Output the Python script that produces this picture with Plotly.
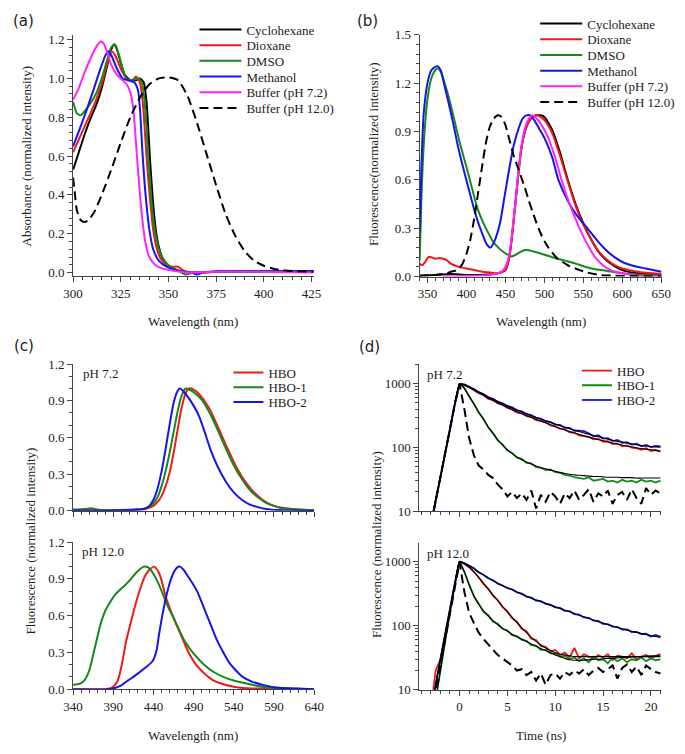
import plotly.graph_objects as go

# ---------------- DATA ----------------
# (a) absorbance
A_CYC_X = [300,303,306,309,312,315,318,320,321.5,323,325,327,330,333,335,337,338.5,340.4,342,343.5,345,347,350,354,358,365,380,400,426]
A_CYC_Y = [0.53,0.62,0.71,0.79,0.86,0.95,1.07,1.15,1.175,1.15,1.08,1.02,0.99,0.99,1.0,0.98,0.88,0.57,0.35,0.21,0.13,0.07,0.03,0.015,0.005,0.0,0.005,0.005,0.005]
A_DIO_X = [300,305,310,315,318,320,322,325,328,331,333,335,336.5,338.7,340.5,342,344,346,349,352,355,358,362,380,400,426]
A_DIO_Y = [0.62,0.73,0.84,0.97,1.08,1.14,1.12,1.05,1.0,0.99,1.01,0.98,0.88,0.57,0.36,0.22,0.12,0.07,0.04,0.03,0.03,0.01,0.0,0.005,0.005,0.005]
A_DMS_X = [300,302,304,306,309,312,315,318,320,322,324,326,328,331,334,336,337.5,339.6,341.3,343,345,348,351,355,359,363,380,400,426]
A_DMS_Y = [0.88,0.82,0.81,0.83,0.87,0.92,1.00,1.10,1.16,1.175,1.12,1.05,1.0,0.99,1.0,0.98,0.88,0.57,0.35,0.21,0.12,0.06,0.03,0.01,-0.01,0.0,0.005,0.005,0.005]
A_MET_X = [300,305,310,314,317,318.5,320,323,326,329,332,334,335,336.5,338,340,342,345,349,353,358,362,365,368,380,400,426]
A_MET_Y = [0.65,0.78,0.92,1.04,1.12,1.14,1.12,1.05,1.0,0.99,0.98,0.94,0.85,0.6,0.40,0.22,0.12,0.06,0.03,0.015,0.005,0.0,-0.01,0.0,0.008,0.006,0.008]
A_B72_X = [300,303,306,309,312,314.5,316,318,320,323,326,328,330,331.5,333.7,336,338,340,343,347,352,360,380,400,426]
A_B72_Y = [0.89,0.95,1.03,1.10,1.16,1.19,1.18,1.13,1.07,1.02,0.99,0.97,0.93,0.85,0.57,0.30,0.15,0.08,0.04,0.02,0.01,0.0,0.005,0.003,0.0]
A_B12_X = [300,301,302,304,306,308,311,315,320,325,330,335,340,345,350,355,360,365,370,375,380,385,390,395,400,405,410,415,426]
A_B12_Y = [0.49,0.40,0.32,0.27,0.26,0.27,0.31,0.40,0.53,0.67,0.80,0.90,0.97,1.0,1.005,0.99,0.91,0.77,0.61,0.45,0.30,0.19,0.11,0.06,0.035,0.02,0.012,0.008,0.005]

# (b) fluorescence in solvents
B_CYC_X = [340,360,380,400,420,440,450,455,460,465,470,475,480,485,490,495,500,510,520,530,540,550,560,570,580,590,600,620,650]
B_CYC_Y = [0.005,0.01,0.015,0.01,0.01,0.02,0.04,0.12,0.32,0.56,0.78,0.90,0.96,0.99,1.0,1.0,0.99,0.91,0.77,0.60,0.45,0.33,0.23,0.15,0.10,0.065,0.04,0.02,0.01]
B_DIO_X = [340,343,347,351,355,360,365,370,375,380,390,400,410,420,430,440,450,455,460,465,470,475,480,485,490,495,500,510,520,530,540,550,560,570,580,590,600,620,650]
B_DIO_Y = [0.08,0.07,0.09,0.12,0.12,0.11,0.115,0.11,0.10,0.08,0.06,0.05,0.04,0.03,0.025,0.02,0.04,0.12,0.32,0.56,0.78,0.90,0.96,0.99,1.0,0.99,0.97,0.89,0.75,0.59,0.44,0.32,0.23,0.155,0.105,0.07,0.05,0.03,0.015]
B_DMS_X = [340,342,345,350,355,360,364,368,372,378,385,392,400,406,413,420,427,435,443,451,458,465,472,478,486,497,510,525,540,560,580,600,625,650]
B_DMS_Y = [0.10,0.45,0.80,1.10,1.23,1.28,1.29,1.26,1.20,1.10,0.96,0.82,0.68,0.57,0.44,0.35,0.28,0.21,0.17,0.14,0.125,0.14,0.16,0.165,0.155,0.14,0.12,0.10,0.08,0.05,0.035,0.02,0.01,0.005]
B_MET_X = [340,342,345,350,355,360,363,367,372,377,383,389,395,402,408,414,420,426,431,436,443,449,455,461,467,472,477,482,487,493,500,510,518,530,540,555,570,580,590,600,615,630,650]
B_MET_Y = [0.27,0.65,1.0,1.2,1.28,1.30,1.305,1.28,1.18,1.08,0.95,0.81,0.69,0.56,0.45,0.35,0.27,0.20,0.18,0.22,0.33,0.50,0.67,0.82,0.92,0.98,1.0,1.0,0.97,0.92,0.86,0.74,0.60,0.47,0.39,0.30,0.21,0.16,0.12,0.09,0.065,0.05,0.03]
B_B72_X = [370,400,430,445,450,455,460,465,470,475,480,484,490,495,505,515,522,530,545,555,565,575,585,600,620,650]
B_B72_Y = [0.0,0.003,0.01,0.03,0.06,0.14,0.33,0.57,0.79,0.92,0.98,1.0,0.98,0.95,0.86,0.72,0.60,0.48,0.30,0.20,0.12,0.07,0.04,0.02,0.005,0.0]
B_B12_X = [340,360,375,380,385,390,395,400,405,410,415,420,425,430,435,440,445,450,455,460,465,470,475,480,485,490,495,500,505,515,530,545,555,570,590,650]
B_B12_Y = [0.005,0.01,0.02,0.03,0.035,0.05,0.08,0.14,0.23,0.36,0.52,0.68,0.83,0.93,0.98,1.0,0.99,0.94,0.85,0.76,0.69,0.62,0.55,0.47,0.40,0.33,0.27,0.22,0.18,0.12,0.07,0.04,0.025,0.01,0.005,0.0]

# (c) emission, pH 7.2 (top) and pH 12.0 (bottom)
C7_HBO_X = [340,380,420,430,440,445,450,455,460,465,470,475,480,484,490,500,510,520,530,540,550,560,570,580,590,600,620,640]
C7_HBO_Y = [0.005,0.005,0.01,0.015,0.04,0.07,0.12,0.20,0.31,0.47,0.66,0.84,0.96,1.0,0.99,0.93,0.83,0.69,0.54,0.40,0.28,0.19,0.12,0.07,0.04,0.025,0.01,0.005]
C7_HBO1_X = [340,355,362,370,380,420,430,440,445,450,455,460,465,470,475,480,485,490,500,510,520,530,540,550,560,570,580,590,600,620,640]
C7_HBO1_Y = [0.01,0.015,0.02,0.01,0.005,0.01,0.02,0.06,0.11,0.20,0.32,0.47,0.64,0.81,0.94,1.0,0.99,0.97,0.91,0.80,0.66,0.51,0.37,0.26,0.17,0.11,0.065,0.04,0.02,0.01,0.005]
C7_HBO2_X = [340,380,420,430,435,440,445,450,455,460,465,470,473,477,483,490,497,505,511,520,530,540,550,560,570,580,600,640]
C7_HBO2_Y = [0.005,0.0,0.01,0.02,0.04,0.09,0.18,0.32,0.50,0.70,0.88,0.98,1.0,0.98,0.93,0.86,0.77,0.62,0.50,0.36,0.24,0.15,0.09,0.05,0.03,0.015,0.005,0.0]
C12_HBO_X = [340,380,388,395,400,406,412,418,424,430,436,441,446,450,455,461,467,475,483,493,503,515,527,540,551,570,600,640]
C12_HBO_Y = [0.0,0.0,0.01,0.06,0.18,0.39,0.55,0.70,0.83,0.93,0.98,1.0,0.96,0.89,0.76,0.65,0.55,0.43,0.31,0.20,0.13,0.07,0.04,0.02,0.01,0.005,0.0,0.0]
C12_HBO1_X = [340,345,350,355,360,365,370,375,380,386,392,398,405,412,420,428,433,437,445,452,459,466,473,480,490,503,515,527,540,560,580,600,640]
C12_HBO1_Y = [0.035,0.04,0.05,0.08,0.15,0.28,0.42,0.55,0.64,0.71,0.77,0.81,0.85,0.90,0.96,1.0,0.995,0.97,0.88,0.77,0.66,0.57,0.47,0.38,0.29,0.20,0.14,0.10,0.07,0.04,0.015,0.005,0.0]
C12_HBO2_X = [340,385,392,400,408,415,423,431,439,444,447,451,455,460,465,469,473,478,483,488,495,503,511,519,527,535,543,551,563,576,590,600,620,640]
C12_HBO2_Y = [0.0,0.0,0.01,0.03,0.07,0.10,0.14,0.18,0.23,0.32,0.45,0.60,0.73,0.86,0.95,0.99,1.0,0.97,0.92,0.87,0.79,0.66,0.53,0.40,0.30,0.21,0.15,0.10,0.06,0.035,0.015,0.01,0.005,0.0]

# (d) decays (time in ns)
T = [-3.0,-2.5,-2.0,-1.5,-1.0,-0.5,0.0,0.5,1.0,1.5,2.0,2.5,3.0,3.5,4.0,4.5,5.0,5.5,6.0,6.5,7.0,7.5,8.0,8.5,9.0,9.5,
     10.0,10.5,11.0,11.5,12.0,12.5,13.0,13.5,14.0,14.5,15.0,15.5,16.0,16.5,17.0,17.5,18.0,18.5,19.0,19.5,20.0,20.5,21.0]
D7_HBO = [6,15,34,82,195,480,990, 950,885,790,712,668,580,552,493,470,418,396,352,345,309,302,268,262,248,222,215,196,192,172,171,155,150,147,134,136,124,125,113,116,104,107,99,97,92,97,88,91,86]
D7_HBO_FIT = [6,15,34,82,195,480,990, 960,880,800,720,655,595,545,500,460,425,392,363,338,315,295,276,259,243,228,212,200,189,178,168,160,152,145,139,133,127,122,117,113,109,105,102,99,96,94,92,90,88]
D7_HBO1 = [6,15,34,82,195,480,990, 860,630,488,352,282,205,168,128,112,89,82,69,66,57,56,49,48,44,45,41,40,37,36,34,33,32,34,30,31,32,29,30,28,31,29,30,28,31,29,30,28,30]
D7_HBO1_FIT = [6,15,34,82,195,480,990, 850,640,480,360,275,210,165,132,108,92,80,71,64,59,55,51,48,46,44,42,40.5,39,38,37,36.5,36,35.5,35,35,34.5,34,34,34,33.5,33.5,33.5,33,33,33,33,33,33]
D7_HBO2 = [6,15,34,82,195,480,995, 975,895,828,738,690,612,578,520,492,446,425,383,368,333,322,292,284,258,252,229,226,204,202,183,184,180,167,150,156,138,140,126,131,118,121,111,114,104,109,101,106,104]
D7_HBO2_FIT = [6,15,34,82,195,480,995, 970,900,820,745,680,620,570,525,485,450,418,388,362,338,316,296,278,262,247,233,220,208,197,187,178,169,161,154,147,141,135,130,125,121,117,113,110,107,105,103,102,101]
D7_IRF = [6,15,34,82,195,480,980,400,140,75,52,45,37,33,26,22,17,20,16,19,15,21,11,18,14,20,17,13,19,16,21,15,18,22,14,19,17,21,13,18,20,15,22,16,13,23,18,21,19]

D12_HBO = [5,20,30,75,180,450,990, 925,830,690,572,452,380,292,251,196,168,131,116,90,82,63,60,48,47,40,42,35,38,32,45,31,36,33,30,35,32,36,29,34,33,31,37,30,33,35,31,34,36]
D12_HBO_FIT = [5,12,30,75,180,450,990, 930,820,700,565,460,372,302,246,200,164,135,112,93,78,66,57,50,45,41,38,36,35,34,33,33,33,33,33,33,33,33,33,33,33,33,33,33,33,33,33,33,33]
D12_HBO1 = [3,7,20,60,160,430,990, 690,440,288,222,165,146,116,108,89,85,71,69,60,58,50,49,42,42,37,37,33,34,30,32,28,31,27,33,29,30,26,32,28,31,27,30,29,32,28,31,29,30]
D12_HBO1_FIT = [3,7,20,60,160,430,990, 700,430,295,215,172,142,120,104,92,82,74,67,62,57,52,48,44,41,38,35,33,31,29.5,29,29,29,29.5,30,30,30.5,31,31,31.5,32,32,32.5,33,33,33.5,34,34,34]
D12_HBO2 = [4,12,30,75,180,450,1000, 955,862,788,682,628,552,512,455,426,386,370,333,318,286,275,248,243,220,214,194,190,171,169,152,149,135,133,120,119,107,106,97,96,87,88,80,80,74,75,68,72,67]
D12_HBO2_FIT = [4,12,30,75,180,450,1000, 950,870,780,690,620,560,505,460,420,392,365,338,312,290,270,252,238,224,210,198,186,175,165,155,146,138,130,123,116,110,104,99,94,90,86,82,79,76,73,70,68,66]
D12_IRF = [4,10,28,72,175,445,980,339,160,110,78,62,50,42,35,31,27,24,20,21,17,19,14,18,12,17,18,15,19,17,20,18,21,17,20,22,19,21,24,15,22,25,19,23,17,24,21,19,18]

SOLVENTS = ["Cyclohexane", "Dioxane", "DMSO", "Methanol", "Buffer (pH 7.2)", "Buffer (pH 12.0)"]
COMPOUNDS = ["HBO", "HBO-1", "HBO-2"]

# ---------------- STYLE ----------------
W, H = 685, 754
BLACK, RED, GREEN, BLUE, MAG = "#000000", "#f01818", "#158a18", "#1414ee", "#ff22ff"
SERIF = "Liberation Serif, Times New Roman, DejaVu Serif, serif"
SANS = "DejaVu Sans, Verdana, sans-serif"

def fx(p):
    return p / W

def fy(p):
    return 1 - p / H

fig = go.Figure()

def add(x, y, xa, ya, color, name, legend=None, dash="solid", width=2.0, shape="spline"):
    fig.add_trace(go.Scatter(
        x=x, y=y, xaxis=xa, yaxis=ya, mode="lines", name=name,
        line=dict(color=color, width=width, dash=dash, shape=shape, smoothing=0.6),
        showlegend=legend is not None, legend=legend if legend else "legend",
        hoverinfo="skip"))

def lname(k):
    return "legend" if k == 1 else "legend%d" % k

DASH = "9px,5px"
# (a)
cols6 = [BLACK, RED, GREEN, BLUE, MAG, BLACK]
a_sets = [(A_CYC_X, A_CYC_Y), (A_DIO_X, A_DIO_Y), (A_DMS_X, A_DMS_Y), (A_MET_X, A_MET_Y), (A_B72_X, A_B72_Y), (A_B12_X, A_B12_Y)]
for i, (xx, yy) in enumerate(a_sets):
    add(xx, yy, "x", "y", cols6[i], SOLVENTS[i], legend=lname(1 + i), dash=DASH if i == 5 else "solid")
# (b)
b_sets = [(B_CYC_X, B_CYC_Y), (B_DIO_X, B_DIO_Y), (B_DMS_X, B_DMS_Y), (B_MET_X, B_MET_Y), (B_B72_X, B_B72_Y), (B_B12_X, B_B12_Y)]
for i, (xx, yy) in enumerate(b_sets):
    add(xx, yy, "x2", "y2", cols6[i], SOLVENTS[i], legend=lname(7 + i), dash=DASH if i == 5 else "solid")
# (c)
cols3 = [RED, GREEN, BLUE]
c7 = [(C7_HBO_X, C7_HBO_Y), (C7_HBO1_X, C7_HBO1_Y), (C7_HBO2_X, C7_HBO2_Y)]
c12 = [(C12_HBO_X, C12_HBO_Y), (C12_HBO1_X, C12_HBO1_Y), (C12_HBO2_X, C12_HBO2_Y)]
for i, (xx, yy) in enumerate(c7):
    add(xx, yy, "x3", "y3", cols3[i], COMPOUNDS[i], legend=lname(13 + i))
for i, (xx, yy) in enumerate(c12):
    add(xx, yy, "x4", "y4", cols3[i], COMPOUNDS[i])
# (d)
d7 = [D7_HBO, D7_HBO1, D7_HBO2]
d7f = [D7_HBO_FIT, D7_HBO1_FIT, D7_HBO2_FIT]
d12 = [D12_HBO, D12_HBO1, D12_HBO2]
d12f = [D12_HBO_FIT, D12_HBO1_FIT, D12_HBO2_FIT]
for i in range(3):
    add(T, d7[i], "x5", "y5", cols3[i], COMPOUNDS[i], legend=lname(16 + i), width=1.8, shape="linear")
for i in range(3):
    add(T, d7f[i], "x5", "y5", BLACK, "fit", width=1.1, shape="spline")
add(T, D7_IRF, "x5", "y5", BLACK, "IRF", dash=DASH, width=2.0, shape="linear")
for i in range(3):
    add(T, d12[i], "x6", "y6", cols3[i], COMPOUNDS[i], width=1.8, shape="linear")
for i in range(3):
    add(T, d12f[i], "x6", "y6", BLACK, "fit", width=1.1, shape="spline")
add(T, D12_IRF, "x6", "y6", BLACK, "IRF", dash=DASH, width=2.0, shape="linear")

# ---------------- AXES ----------------
TICKFONT = dict(family=SERIF, size=13, color="#222")
def ax(**kw):
    d = dict(showline=True, linecolor="#444", linewidth=1, ticks="outside", ticklen=5,
             tickcolor="#444", tickwidth=1, showgrid=False, zeroline=False,
             tickfont=TICKFONT, fixedrange=True)
    d.update(kw)
    return d

def minor(dt):
    return dict(ticks="outside", ticklen=3, tickcolor="#444", dtick=dt, showgrid=False)

# pixel boxes
AX = (65, 313.5); AY = (28.3, 274.5)
BX = (422, 671.7); BY = (28.3, 275)
CX = (65, 313.3); C1Y = (364.3, 514); C2Y = (546, 696)
DX = (421.7, 671); D1Y = (364.3, 514.3); D2Y = (546.7, 696.7)

logminor = [2,3,4,5,6,7,8,9,20,30,40,50,60,70,80,90,200,300,400,500,600,700,800,900,2000]

fig.update_layout(
    xaxis=ax(domain=[fx(AX[0]), fx(AX[1])], anchor="y", range=[300, 426.5], tick0=300, dtick=25, minor=minor(5)),
    yaxis=ax(domain=[fy(AY[1]), fy(AY[0])], anchor="x", range=[-0.018, 1.225], tick0=0, dtick=0.2, tickformat=".1f", minor=minor(0.04)),
    xaxis2=ax(domain=[fx(BX[0]), fx(BX[1])], anchor="y2", range=[340, 651], tick0=350, dtick=50, minor=minor(10)),
    yaxis2=ax(domain=[fy(BY[1]), fy(BY[0])], anchor="x2", range=[0, 1.5], tick0=0, dtick=0.3, tickformat=".1f", minor=minor(0.06)),
    xaxis3=ax(domain=[fx(CX[0]), fx(CX[1])], anchor="y3", range=[340, 640], tick0=340, dtick=50, minor=minor(10), showticklabels=False),
    yaxis3=ax(domain=[fy(C1Y[1]), fy(C1Y[0])], anchor="x3", range=[0, 1.2], tick0=0, dtick=0.3, tickformat=".1f", minor=minor(0.1)),
    xaxis4=ax(domain=[fx(CX[0]), fx(CX[1])], anchor="y4", range=[340, 640], tick0=340, dtick=50, minor=minor(10)),
    yaxis4=ax(domain=[fy(C2Y[1]), fy(C2Y[0])], anchor="x4", range=[0, 1.2], tick0=0, dtick=0.3, tickformat=".1f", minor=minor(0.1)),
    xaxis5=ax(domain=[fx(DX[0]), fx(DX[1])], anchor="y5", range=[-4.2, 21.1], tick0=0, dtick=5, minor=minor(1), showticklabels=False),
    yaxis5=ax(domain=[fy(D1Y[1]), fy(D1Y[0])], anchor="x5", type="log", range=[1, 3.31], tickvals=[10, 100, 1000],
              ticktext=["10", "100", "1000"], minor=dict(ticks="outside", ticklen=3, tickcolor="#444", tickvals=logminor)),
    xaxis6=ax(domain=[fx(DX[0]), fx(DX[1])], anchor="y6", range=[-4.2, 21.1], tick0=0, dtick=5, minor=minor(1)),
    yaxis6=ax(domain=[fy(D2Y[1]), fy(D2Y[0])], anchor="x6", type="log", range=[1, 3.295], tickvals=[10, 100, 1000],
              ticktext=["10", "100", "1000"], minor=dict(ticks="outside", ticklen=3, tickcolor="#444", tickvals=logminor)),
)

# one single-entry legend per item, so rows can sit where the reference has them
LEGFONT = dict(family=SERIF, size=13, color="#222")
def leg(xp, yp, iw):
    return dict(x=fx(xp), y=fy(yp), xanchor="left", yanchor="middle", bgcolor="rgba(0,0,0,0)",
                font=LEGFONT, borderwidth=0, itemwidth=iw)

LEG_A = (190, [23, 39, 55, 71, 87, 103], 42)
LEG_B = (541, [17, 33, 49, 65, 81, 97], 42)
LEG_C = (225, [373, 388, 403], 30)
LEG_D = (584, [371, 386, 401], 30)
legends = {}
k = 1
for (lx, rows, iw) in (LEG_A, LEG_B, LEG_C, LEG_D):
    for r in rows:
        legends[lname(k)] = leg(lx, r, iw)
        k += 1
fig.update_layout(**legends)

fig.update_layout(
    width=W, height=H, margin=dict(l=0, r=0, t=0, b=0),
    paper_bgcolor="white", plot_bgcolor="white",
    font=dict(family=SERIF, size=13, color="#222"),
)

ann = []
def txt(x, y, s, size=13, family=SERIF, angle=0, xanchor="center"):
    ann.append(dict(x=fx(x), y=fy(y), xref="paper", yref="paper", text=s, showarrow=False,
                    font=dict(family=family, size=size, color="#222"), textangle=angle,
                    xanchor=xanchor, yanchor="middle"))

txt(14, 14, "(a)", size=15, family=SANS)
txt(368, 14, "(b)", size=15, family=SANS)
txt(14, 346, "(c)", size=15, family=SANS)
txt(370, 347, "(d)", size=15, family=SANS)
txt(18, 152, "Absorbance (normalized intensity)", angle=-90)
txt(374, 150, "Fluorescence(normalized intensity)", angle=-90)
txt(21, 545, "Fluorescence (normalized intensity)", angle=-90)
txt(377, 548, "Fluorescence (normalized intensity)", angle=-90)
txt(189, 321, "Wavelength (nm)")
txt(547, 321, "Wavelength (nm)")
txt(189, 743, "Wavelength (nm)")
txt(547, 743, "Time (ns)")
txt(73, 374, "pH 7.2", xanchor="left")
txt(72, 556, "pH 12.0", xanchor="left")
txt(427, 375, "pH 7.2", xanchor="left")
txt(427, 558, "pH 12.0", xanchor="left")
fig.update_layout(annotations=ann)

fig.write_html("out.html", config={"displayModeBar": False},
               post_script="document.body.style.margin='0';document.body.style.overflow='hidden';")
